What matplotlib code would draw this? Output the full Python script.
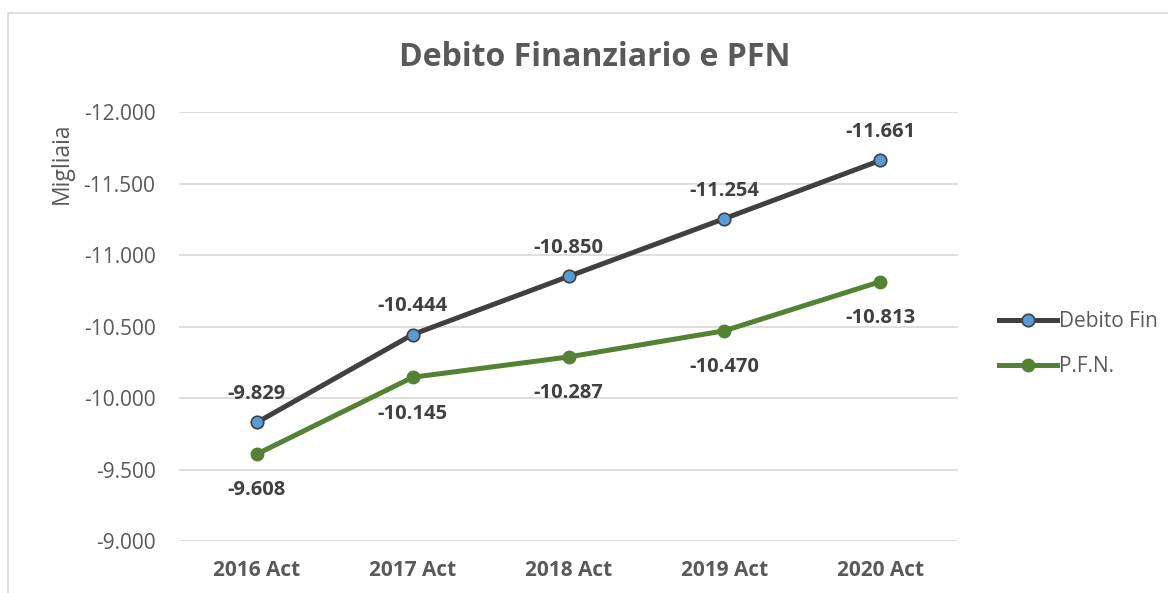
import matplotlib.pyplot as plt
from matplotlib.lines import Line2D
from matplotlib.patches import Rectangle

categories = ['2016 Act', '2017 Act', '2018 Act', '2019 Act', '2020 Act']
debito_fin = [-9829, -10444, -10850, -11254, -11661]
pfn = [-9608, -10145, -10287, -10470, -10813]
yticks = [-9000, -9500, -10000, -10500, -11000, -11500, -12000]

def fmt(v):
    return '{:,}'.format(int(v)).replace(',', '.')

plt.rcParams['font.family'] = ['Open Sans', 'DejaVu Sans']
txt = '#595959'
dark = '#404040'
green = '#548235'
blue = '#5B9BD5'

fig = plt.figure(figsize=(11.68, 5.93), dpi=100)
fig.patches.append(Rectangle((8 / 1168, -0.1), 1.2, (593 - 13) / 593 + 0.1,
                             transform=fig.transFigure, fill=False,
                             edgecolor='#d9d9d9', linewidth=1.2))
ax = fig.add_axes([179 / 1168, 52 / 593, 779 / 1168, 429 / 593])

x = range(len(categories))
ax.plot(x, debito_fin, '-o', color=dark, lw=3.6, ms=9, mfc=blue, mec=dark, mew=1.2,
        zorder=4)
ax.plot(x, pfn, '-o', color=green, lw=3.6, ms=9, mfc=green, mec=green, zorder=4)

for i, v in enumerate(debito_fin):
    ax.annotate(fmt(v), (i, v), xytext=(0, 13), textcoords='offset points',
                ha='center', va='bottom', fontsize=14.5, fontweight='bold', color=dark)
for i, v in enumerate(pfn):
    ax.annotate(fmt(v), (i, v), xytext=(0, -19), textcoords='offset points',
                ha='center', va='top', fontsize=14.5, fontweight='bold', color=dark)

ax.set_xlim(-0.5, len(categories) - 0.5)
ax.set_ylim(-9000, -12000)
ax.set_yticks(yticks)
ax.set_yticklabels([fmt(t) for t in yticks])
ax.set_xticks(list(x))
ax.set_xticklabels(categories, fontweight='bold')
ax.tick_params(axis='y', length=0, pad=17, labelsize=15, labelcolor=txt)
ax.tick_params(axis='x', length=0, pad=14, labelsize=15, labelcolor=txt)
ax.grid(axis='y', color='#d9d9d9', lw=1.2)
ax.set_axisbelow(True)
for s in ax.spines.values():
    s.set_visible(False)

fig.text(62 / 1168, 1 - 163 / 593, 'Migliaia', rotation=90, ha='center', va='center',
         fontsize=16.5, color=txt)
fig.text(595 / 1168, 1 - 58 / 593, 'Debito Finanziario e PFN', ha='center', va='center',
         fontsize=23, fontweight='bold', color=txt)

handles = [Line2D([], [], color=dark, lw=3.6, marker='o', ms=9, mfc=blue, mec=dark, mew=1.2),
           Line2D([], [], color=green, lw=3.6, marker='o', ms=9, mfc=green, mec=green)]
leg = fig.legend(handles, ['Debito Fin', 'P.F.N.'], loc='center left',
                 bbox_to_anchor=(980 / 1168, 1 - 344 / 593), frameon=False,
                 fontsize=15, labelspacing=1.15, handlelength=2.8, handletextpad=0.1,
                 labelcolor=txt)

fig.savefig('out.png', dpi=100)
